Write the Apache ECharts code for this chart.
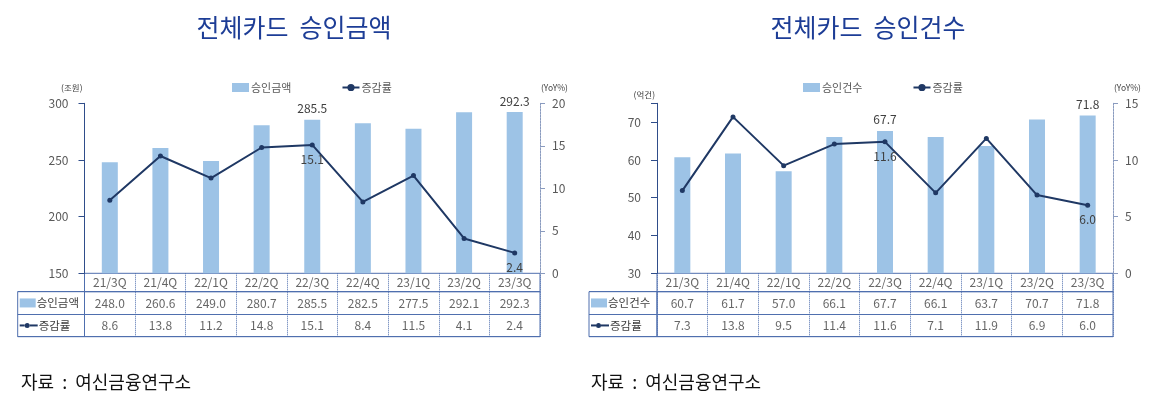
<!DOCTYPE html>
<html><head><meta charset="utf-8">
<script src="https://cdn.jsdelivr.net/npm/echarts@6/dist/echarts.min.js"></script>
<style>html,body{margin:0;padding:0;background:#fff}#c{width:1152px;height:395px}</style>
</head><body><div id="c"></div>
<script>
// ---- data ----
const categories = ['21/3Q','21/4Q','22/1Q','22/2Q','22/3Q','22/4Q','23/1Q','23/2Q','23/3Q'];
const amountValues = [248.0,260.6,249.0,280.7,285.5,282.5,277.5,292.1,292.3];
const amountYoY = [8.6,13.8,11.2,14.8,15.1,8.4,11.5,4.1,2.4];
const countValues = [60.7,61.7,57.0,66.1,67.7,66.1,63.7,70.7,71.8];
const countYoY = [7.3,13.8,9.5,11.4,11.6,7.1,11.9,6.9,6.0];
const labeledIdx = [4, 8];
// axis ranges: [min, max, interval]
const amountAxis = [150, 300, 50];
const amountYoYAxis = [0, 20, 5];
const countAxis = [30, 75, 10];
const countYoYAxis = [0, 15, 5];
const titles = ['전체카드  승인금액', '전체카드  승인건수'];
const barNames = ['승인금액', '승인건수'];
const lineName = '증감률';
const unitNames = ['(조원)', '(억건)'];
const yoyUnit = '(YoY%)';
const sourceText = '자료  :  여신금융연구소';

const FONT = "'Noto Sans CJK KR', 'Noto Sans', sans-serif";
const BAR = '#9dc3e6';
const LINE = '#1f3864';
const TXT = '#404040';
const BORDER = '#4f6fae';

const chart = echarts.init(document.getElementById('c'), null, {renderer: 'canvas'});

const panels = [
  {plotLeft: 84.5, plotWidth: 455.5, headLeft: 17.7, titleX: 289, srcX: 16, legendX: 227, unitGap: 11,
   bars: amountValues, yoy: amountYoY, axL: amountAxis, axR: amountYoYAxis, unit: unitNames[0], barName: barNames[0], title: titles[0]},
  {plotLeft: 657, plotWidth: 456, headLeft: 589, titleX: 863, srcX: 586, legendX: 798, unitGap: 4,
   bars: countValues, yoy: countYoY, axL: countAxis, axR: countYoYAxis, unit: unitNames[1], barName: barNames[1], title: titles[1]}
];

const PLOT_TOP = 103.3, PLOT_H = 170;
const ROW1_TOP = 273.3, ROW1_H = 18.4;
const ROWS_TOP = 291.7, ROWS_H = 45;

const option = {
  animation: false,
  backgroundColor: '#fff',
  textStyle: {fontFamily: FONT},
  title: [], legend: [], grid: [], xAxis: [], yAxis: [], series: []
};

panels.forEach((p, k) => {
  const g0 = option.grid.length;
  option.title.push({text: p.title, left: p.titleX, top: 10, textAlign: 'center',
    textStyle: {fontFamily: FONT, fontSize: 25, fontWeight: 'normal', color: '#1d3d96'}});
  option.title.push({text: sourceText, left: p.srcX, top: 368,
    textStyle: {fontFamily: FONT, fontSize: 18, fontWeight: 'normal', color: '#111'}});
  option.legend.push({left: p.legendX, top: 77, itemWidth: 17, itemHeight: 9, itemGap: 50,
    data: [{name: p.barName, icon: 'rect'}, {name: lineName}],
    textStyle: {fontFamily: FONT, fontSize: 11, color: '#595959', padding: [0,0,0,-3]}});
  // grids: plot, category row, value rows, row headers
  option.grid.push({left: p.plotLeft, top: PLOT_TOP, width: p.plotWidth, height: PLOT_H});
  option.grid.push({left: p.plotLeft, top: ROW1_TOP, width: p.plotWidth, height: ROW1_H, show: true, borderColor: BORDER, borderWidth: 1});
  option.grid.push({left: p.plotLeft, top: ROWS_TOP, width: p.plotWidth, height: ROWS_H, show: true, borderColor: BORDER, borderWidth: 1});
  option.grid.push({left: p.headLeft, top: ROWS_TOP, width: p.plotLeft - p.headLeft, height: ROWS_H, show: true, borderColor: BORDER, borderWidth: 1});
  const x0 = option.xAxis.length, y0 = option.yAxis.length;
  const colSplit = {show: true, interval: 0, lineStyle: {color: BORDER, width: 1, type: [1, 1]}};
  // x axes
  option.xAxis.push({type: 'category', gridIndex: g0, data: categories, axisLine: {show: false}, axisTick: {show: false}, axisLabel: {show: false}});
  option.xAxis.push({type: 'category', gridIndex: g0 + 1, data: categories, axisLine: {show: false}, axisTick: {show: false}, axisLabel: {show: false}, splitLine: colSplit});
  option.xAxis.push({type: 'category', gridIndex: g0 + 2, data: categories, axisLine: {show: false}, axisTick: {show: false}, axisLabel: {show: false}, splitLine: colSplit});
  option.xAxis.push({type: 'category', gridIndex: g0 + 3, data: ['h'], show: false});
  // y axes
  const fmtL = v => (v - p.axL[0]) % p.axL[2] === 0 ? String(v) : '';
  option.yAxis.push({type: 'value', gridIndex: g0, position: 'left', min: p.axL[0], max: p.axL[1], interval: p.axL[2],
    name: p.unit, nameLocation: 'end', nameGap: p.unitGap,
    nameTextStyle: {fontFamily: FONT, fontSize: 8.5, color: '#404040', align: 'right', padding: [0, 2, 0, 0]},
    axisLine: {show: true, lineStyle: {color: '#2f4d8a', width: 1}},
    axisTick: {show: true, length: 6, lineStyle: {color: '#2f4d8a'}},
    axisLabel: {margin: 16, fontSize: 12, color: '#595959', formatter: fmtL},
    splitLine: {show: false}});
  option.yAxis.push({type: 'value', gridIndex: g0, position: 'right', min: p.axR[0], max: p.axR[1], interval: p.axR[2],
    name: yoyUnit, nameLocation: 'end', nameGap: 11,
    nameTextStyle: {fontFamily: FONT, fontSize: 8.5, color: '#404040', align: 'left', padding: [0, 0, 0, 1]},
    axisLine: {show: true, lineStyle: {color: '#8a9bbf', width: 1, type: [2, 1]}},
    axisTick: {show: true, length: 5, lineStyle: {color: '#8a9bbf'}},
    axisLabel: {margin: 12, fontSize: 12, color: '#595959'},
    splitLine: {show: false}});
  option.yAxis.push({type: 'category', gridIndex: g0 + 1, data: ['c'], show: false});
  option.yAxis.push({type: 'category', gridIndex: g0 + 2, inverse: true, data: ['v', 'r'],
    axisLine: {show: false}, axisTick: {show: false}, axisLabel: {show: false},
    splitLine: {show: true, interval: 0, lineStyle: {color: BORDER, width: 1}}});
  option.yAxis.push({type: 'category', gridIndex: g0 + 3, inverse: true, data: [p.barName, lineName],
    axisLine: {show: false}, axisTick: {show: false},
    splitLine: {show: true, interval: 0, lineStyle: {color: BORDER, width: 1}},
    axisLabel: {inside: true, margin: 2, align: 'left', fontSize: 11, color: TXT,
      formatter: (v, i) => i === 0 ? '{sw|}{t|' + v + '}' : '{ln|}{dot|}{ln2|}{t|' + v + '}',
      rich: {
        sw: {width: 16, height: 9, backgroundColor: BAR, verticalAlign: 'middle'},
        ln: {width: 5, height: 2, backgroundColor: LINE, verticalAlign: 'middle'},
        ln2: {width: 8, height: 2, backgroundColor: LINE, verticalAlign: 'middle'},
        dot: {width: 5, height: 5, borderRadius: 3, backgroundColor: LINE, verticalAlign: 'middle'},
        t: {fontSize: 11.5, color: TXT, padding: [0, 0, 0, 1], verticalAlign: 'middle', fontFamily: FONT}
      }}});
  // series
  option.series.push({type: 'bar', name: p.barName, xAxisIndex: x0, yAxisIndex: y0, barWidth: 16,
    itemStyle: {color: BAR},
    data: p.bars.map((v, i) => ({value: v, label: {show: labeledIdx.includes(i)}})),
    label: {position: 'top', distance: 5, fontSize: 12, color: TXT, formatter: d => d.value.toFixed(1)}});
  option.series.push({type: 'line', name: lineName, xAxisIndex: x0, yAxisIndex: y0 + 1,
    symbol: 'circle', symbolSize: 5, lineStyle: {color: LINE, width: 2}, itemStyle: {color: LINE},
    data: p.yoy.map((v, i) => ({value: v, label: {show: labeledIdx.includes(i)}})),
    label: {position: 'bottom', distance: 6, fontSize: 12, color: TXT, formatter: d => d.value.toFixed(1)}});
  option.series.push({type: 'scatter', xAxisIndex: x0 + 1, yAxisIndex: y0 + 2, symbolSize: 0, silent: true,
    data: categories.map((c, i) => [i, 0, c]),
    label: {show: true, position: 'inside', fontSize: 12, color: TXT, formatter: d => d.value[2]}});
  const cells = [];
  categories.forEach((c, i) => {
    cells.push([i, 0, p.bars[i].toFixed(1)]);
    cells.push([i, 1, p.yoy[i].toFixed(1)]);
  });
  option.series.push({type: 'scatter', xAxisIndex: x0 + 2, yAxisIndex: y0 + 3, symbolSize: 0, silent: true,
    data: cells, label: {show: true, position: 'inside', fontSize: 12, color: TXT, formatter: d => d.value[2]}});
});

chart.setOption(option);
</script></body></html>
